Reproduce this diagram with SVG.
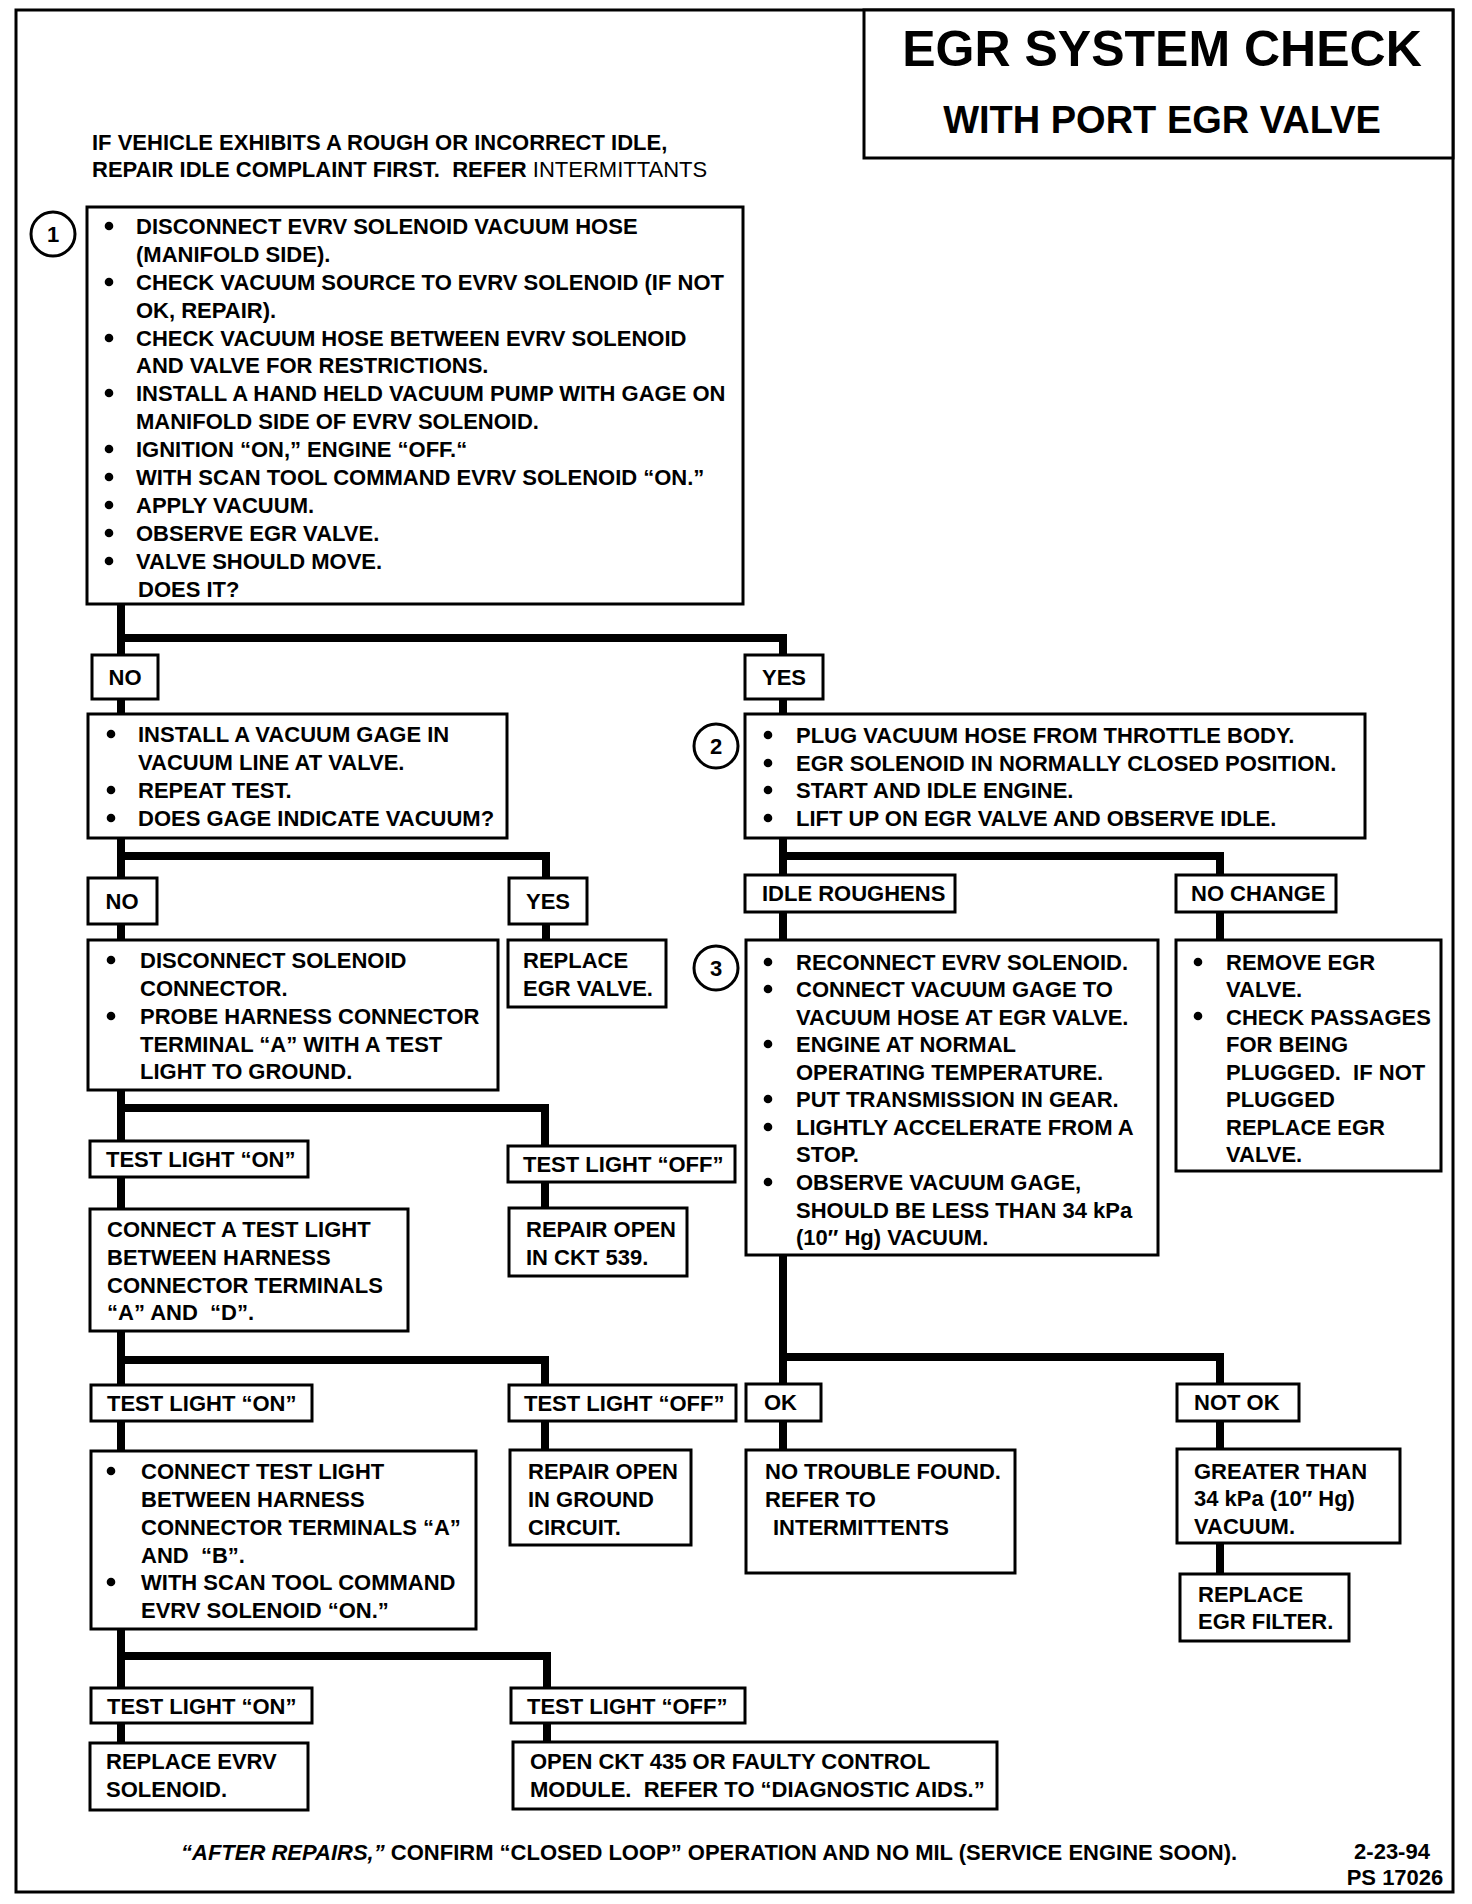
<svg xmlns="http://www.w3.org/2000/svg" width="1472" height="1904" viewBox="0 0 1472 1904">
<style>
.bx{fill:#fff;stroke:#000;stroke-width:3}
.t{font-family:"Liberation Sans",Arial,sans-serif;font-weight:bold;font-size:22px;fill:#000}
.c{text-anchor:middle}
.b{fill:#000}
.mk{fill:#fff;stroke:#000;stroke-width:3}
#connectors path{fill:none;stroke:#000;stroke-width:8;stroke-linejoin:miter}
</style>
<rect x="0" y="0" width="1472" height="1904" fill="#fff"/>
<rect id="frame" x="16" y="10" width="1437" height="1882" fill="none" stroke="#000" stroke-width="3"/>

<g id="title">
<rect class="bx" x="864" y="10" width="589" height="148"/>
<text class="t c" x="1162" y="66" style="font-size:50px">EGR SYSTEM CHECK</text>
<text class="t c" x="1162" y="133" style="font-size:38px">WITH PORT EGR VALVE</text>
</g>

<g id="header">
<text class="t" x="92" y="150">IF VEHICLE EXHIBITS A ROUGH OR INCORRECT IDLE,</text>
<text class="t" x="92" y="177" xml:space="preserve">REPAIR IDLE COMPLAINT FIRST.  REFER <tspan style="font-weight:normal">INTERMITTANTS</tspan></text>
</g>

<g id="connectors">
<path d="M121 604 V655 M121 638 H783 V655"/>
<path d="M783 699 V714 M121 699 V714"/>
<path d="M121 838 V878 M121 856 H546 V878"/>
<path d="M121 924 V940 M546 924 V940"/>
<path d="M121 1090 V1141 M121 1108 H545 V1146"/>
<path d="M121 1177 V1209 M545 1182 V1208"/>
<path d="M121 1331 V1385 M121 1360 H545 V1385"/>
<path d="M121 1421 V1451 M545 1421 V1450"/>
<path d="M121 1629 V1688 M121 1656 H547 V1688"/>
<path d="M121 1723 V1743 M547 1723 V1742"/>
<path d="M783 838 V875 M783 856 H1220 V875"/>
<path d="M783 912 V940 M1220 912 V940"/>
<path d="M783 1255 V1384 M783 1357 H1220 V1384"/>
<path d="M783 1421 V1450 M1220 1421 V1449 M1220 1543 V1574"/>
</g>

<g id="marker1">
<circle class="mk" cx="53" cy="234" r="22"/>
<text class="t c" x="53" y="242">1</text>
</g>

<g id="step1">
<rect class="bx" x="87" y="207" width="656" height="397"/>
<circle class="b" cx="109" cy="226" r="4.3"/>
<circle class="b" cx="109" cy="282" r="4.3"/>
<circle class="b" cx="109" cy="338" r="4.3"/>
<circle class="b" cx="109" cy="393" r="4.3"/>
<circle class="b" cx="109" cy="449" r="4.3"/>
<circle class="b" cx="109" cy="477" r="4.3"/>
<circle class="b" cx="109" cy="505" r="4.3"/>
<circle class="b" cx="109" cy="533" r="4.3"/>
<circle class="b" cx="109" cy="561" r="4.3"/>
<text class="t" x="136" y="234">DISCONNECT EVRV SOLENOID VACUUM HOSE</text>
<text class="t" x="136" y="262">(MANIFOLD SIDE).</text>
<text class="t" x="136" y="290">CHECK VACUUM SOURCE TO EVRV SOLENOID (IF NOT</text>
<text class="t" x="136" y="318">OK, REPAIR).</text>
<text class="t" x="136" y="346">CHECK VACUUM HOSE BETWEEN EVRV SOLENOID</text>
<text class="t" x="136" y="373">AND VALVE FOR RESTRICTIONS.</text>
<text class="t" x="136" y="401">INSTALL A HAND HELD VACUUM PUMP WITH GAGE ON</text>
<text class="t" x="136" y="429">MANIFOLD SIDE OF EVRV SOLENOID.</text>
<text class="t" x="136" y="457">IGNITION “ON,” ENGINE “OFF.“</text>
<text class="t" x="136" y="485">WITH SCAN TOOL COMMAND EVRV SOLENOID “ON.”</text>
<text class="t" x="136" y="513">APPLY VACUUM.</text>
<text class="t" x="136" y="541">OBSERVE EGR VALVE.</text>
<text class="t" x="136" y="569">VALVE SHOULD MOVE.</text>
<text class="t" x="138" y="597">DOES IT?</text>
</g>

<g id="no1">
<rect class="bx" x="92" y="655" width="66" height="44"/>
<text class="t c" x="125" y="685">NO</text>
</g>
<g id="yes1">
<rect class="bx" x="745" y="655" width="78" height="44"/>
<text class="t c" x="784" y="685">YES</text>
</g>

<g id="gage">
<rect class="bx" x="88" y="714" width="419" height="124"/>
<circle class="b" cx="111" cy="734" r="4.3"/>
<circle class="b" cx="111" cy="790" r="4.3"/>
<circle class="b" cx="111" cy="818" r="4.3"/>
<text class="t" x="138" y="742">INSTALL A VACUUM GAGE IN</text>
<text class="t" x="138" y="770">VACUUM LINE AT VALVE.</text>
<text class="t" x="138" y="798">REPEAT TEST.</text>
<text class="t" x="138" y="826">DOES GAGE INDICATE VACUUM?</text>
</g>

<g id="no2">
<rect class="bx" x="88" y="878" width="69" height="46"/>
<text class="t c" x="122" y="909">NO</text>
</g>
<g id="yes2">
<rect class="bx" x="509" y="878" width="78" height="46"/>
<text class="t c" x="548" y="909">YES</text>
</g>

<g id="disconnect">
<rect class="bx" x="88" y="940" width="410" height="150"/>
<circle class="b" cx="111" cy="960" r="4.3"/>
<circle class="b" cx="111" cy="1016" r="4.3"/>
<text class="t" x="140" y="968">DISCONNECT SOLENOID</text>
<text class="t" x="140" y="996">CONNECTOR.</text>
<text class="t" x="140" y="1024">PROBE HARNESS CONNECTOR</text>
<text class="t" x="140" y="1052">TERMINAL “A” WITH A TEST</text>
<text class="t" x="140" y="1079">LIGHT TO GROUND.</text>
</g>

<g id="replace-egr">
<rect class="bx" x="508" y="940" width="158" height="67"/>
<text class="t" x="523" y="968">REPLACE</text>
<text class="t" x="523" y="996">EGR VALVE.</text>
</g>

<g id="tl-on1">
<rect class="bx" x="90" y="1141" width="218" height="36"/>
<text class="t" x="106" y="1167">TEST LIGHT “ON”</text>
</g>
<g id="tl-off1">
<rect class="bx" x="508" y="1146" width="227" height="36"/>
<text class="t" x="523" y="1172">TEST LIGHT “OFF”</text>
</g>

<g id="connect-ad">
<rect class="bx" x="90" y="1209" width="318" height="122"/>
<text class="t" x="107" y="1237">CONNECT A TEST LIGHT</text>
<text class="t" x="107" y="1265">BETWEEN HARNESS</text>
<text class="t" x="107" y="1293">CONNECTOR TERMINALS</text>
<text class="t" x="107" y="1320" xml:space="preserve">“A” AND  “D”.</text>
</g>

<g id="repair-539">
<rect class="bx" x="509" y="1208" width="178" height="68"/>
<text class="t" x="526" y="1237">REPAIR OPEN</text>
<text class="t" x="526" y="1265">IN CKT 539.</text>
</g>

<g id="tl-on2">
<rect class="bx" x="91" y="1385" width="221" height="36"/>
<text class="t" x="107" y="1411">TEST LIGHT “ON”</text>
</g>
<g id="tl-off2">
<rect class="bx" x="509" y="1385" width="227" height="36"/>
<text class="t" x="524" y="1411">TEST LIGHT “OFF”</text>
</g>

<g id="connect-ab">
<rect class="bx" x="91" y="1451" width="385" height="178"/>
<circle class="b" cx="111" cy="1471" r="4.3"/>
<circle class="b" cx="111" cy="1582" r="4.3"/>
<text class="t" x="141" y="1479">CONNECT TEST LIGHT</text>
<text class="t" x="141" y="1507">BETWEEN HARNESS</text>
<text class="t" x="141" y="1535">CONNECTOR TERMINALS “A”</text>
<text class="t" x="141" y="1563" xml:space="preserve">AND  “B”.</text>
<text class="t" x="141" y="1590">WITH SCAN TOOL COMMAND</text>
<text class="t" x="141" y="1618">EVRV SOLENOID “ON.”</text>
</g>

<g id="repair-ground">
<rect class="bx" x="510" y="1450" width="181" height="95"/>
<text class="t" x="528" y="1479">REPAIR OPEN</text>
<text class="t" x="528" y="1507">IN GROUND</text>
<text class="t" x="528" y="1535">CIRCUIT.</text>
</g>

<g id="tl-on3">
<rect class="bx" x="91" y="1688" width="221" height="35"/>
<text class="t" x="107" y="1714">TEST LIGHT “ON”</text>
</g>
<g id="tl-off3">
<rect class="bx" x="511" y="1688" width="234" height="35"/>
<text class="t" x="527" y="1714">TEST LIGHT “OFF”</text>
</g>

<g id="replace-evrv">
<rect class="bx" x="90" y="1743" width="218" height="67"/>
<text class="t" x="106" y="1769">REPLACE EVRV</text>
<text class="t" x="106" y="1797">SOLENOID.</text>
</g>

<g id="open-435">
<rect class="bx" x="513" y="1742" width="484" height="67"/>
<text class="t" x="530" y="1769">OPEN CKT 435 OR FAULTY CONTROL</text>
<text class="t" x="530" y="1797" xml:space="preserve">MODULE.  REFER TO “DIAGNOSTIC AIDS.”</text>
</g>

<g id="marker2">
<circle class="mk" cx="716" cy="746" r="22"/>
<text class="t c" x="716" y="754">2</text>
</g>

<g id="step2">
<rect class="bx" x="745" y="714" width="620" height="124"/>
<circle class="b" cx="768" cy="735" r="4.3"/>
<circle class="b" cx="768" cy="763" r="4.3"/>
<circle class="b" cx="768" cy="790" r="4.3"/>
<circle class="b" cx="768" cy="818" r="4.3"/>
<text class="t" x="796" y="743">PLUG VACUUM HOSE FROM THROTTLE BODY.</text>
<text class="t" x="796" y="771">EGR SOLENOID IN NORMALLY CLOSED POSITION.</text>
<text class="t" x="796" y="798">START AND IDLE ENGINE.</text>
<text class="t" x="796" y="826">LIFT UP ON EGR VALVE AND OBSERVE IDLE.</text>
</g>

<g id="idle-roughens">
<rect class="bx" x="745" y="875" width="210" height="37"/>
<text class="t" x="762" y="901">IDLE ROUGHENS</text>
</g>
<g id="no-change">
<rect class="bx" x="1176" y="875" width="160" height="37"/>
<text class="t" x="1191" y="901">NO CHANGE</text>
</g>

<g id="marker3">
<circle class="mk" cx="716" cy="968" r="22"/>
<text class="t c" x="716" y="976">3</text>
</g>

<g id="step3">
<rect class="bx" x="746" y="940" width="412" height="315"/>
<circle class="b" cx="768" cy="962" r="4.3"/>
<circle class="b" cx="768" cy="989" r="4.3"/>
<circle class="b" cx="768" cy="1044" r="4.3"/>
<circle class="b" cx="768" cy="1099" r="4.3"/>
<circle class="b" cx="768" cy="1127" r="4.3"/>
<circle class="b" cx="768" cy="1182" r="4.3"/>
<text class="t" x="796" y="970">RECONNECT EVRV SOLENOID.</text>
<text class="t" x="796" y="997">CONNECT VACUUM GAGE TO</text>
<text class="t" x="796" y="1025">VACUUM HOSE AT EGR VALVE.</text>
<text class="t" x="796" y="1052">ENGINE AT NORMAL</text>
<text class="t" x="796" y="1080">OPERATING TEMPERATURE.</text>
<text class="t" x="796" y="1107">PUT TRANSMISSION IN GEAR.</text>
<text class="t" x="796" y="1135">LIGHTLY ACCELERATE FROM A</text>
<text class="t" x="796" y="1162">STOP.</text>
<text class="t" x="796" y="1190">OBSERVE VACUUM GAGE,</text>
<text class="t" x="796" y="1218">SHOULD BE LESS THAN 34 kPa</text>
<text class="t" x="796" y="1245">(10″ Hg) VACUUM.</text>
</g>

<g id="remove-egr">
<rect class="bx" x="1176" y="940" width="265" height="231"/>
<circle class="b" cx="1198" cy="962" r="4.3"/>
<circle class="b" cx="1198" cy="1016" r="4.3"/>
<text class="t" x="1226" y="970">REMOVE EGR</text>
<text class="t" x="1226" y="997">VALVE.</text>
<text class="t" x="1226" y="1025">CHECK PASSAGES</text>
<text class="t" x="1226" y="1052">FOR BEING</text>
<text class="t" x="1226" y="1080" xml:space="preserve">PLUGGED.  IF NOT</text>
<text class="t" x="1226" y="1107">PLUGGED</text>
<text class="t" x="1226" y="1135">REPLACE EGR</text>
<text class="t" x="1226" y="1162">VALVE.</text>
</g>

<g id="ok">
<rect class="bx" x="746" y="1384" width="75" height="37"/>
<text class="t" x="764" y="1410">OK</text>
</g>
<g id="not-ok">
<rect class="bx" x="1177" y="1384" width="122" height="37"/>
<text class="t" x="1194" y="1410">NOT OK</text>
</g>

<g id="no-trouble">
<rect class="bx" x="746" y="1450" width="269" height="123"/>
<text class="t" x="765" y="1479">NO TROUBLE FOUND.</text>
<text class="t" x="765" y="1507">REFER TO</text>
<text class="t" x="773" y="1535">INTERMITTENTS</text>
</g>

<g id="greater">
<rect class="bx" x="1177" y="1449" width="223" height="94"/>
<text class="t" x="1194" y="1479">GREATER THAN</text>
<text class="t" x="1194" y="1506">34 kPa (10″ Hg)</text>
<text class="t" x="1194" y="1534">VACUUM.</text>
</g>

<g id="replace-filter">
<rect class="bx" x="1180" y="1574" width="169" height="67"/>
<text class="t" x="1198" y="1602">REPLACE</text>
<text class="t" x="1198" y="1629">EGR FILTER.</text>
</g>

<g id="footer">
<text class="t" x="181" y="1860"><tspan style="font-style:italic">“AFTER REPAIRS,”</tspan> CONFIRM “CLOSED LOOP” OPERATION AND NO MIL (SERVICE ENGINE SOON).</text>
<text class="t c" x="1392" y="1859">2-23-94</text>
<text class="t c" x="1395" y="1885">PS 17026</text>
</g>
</svg>
